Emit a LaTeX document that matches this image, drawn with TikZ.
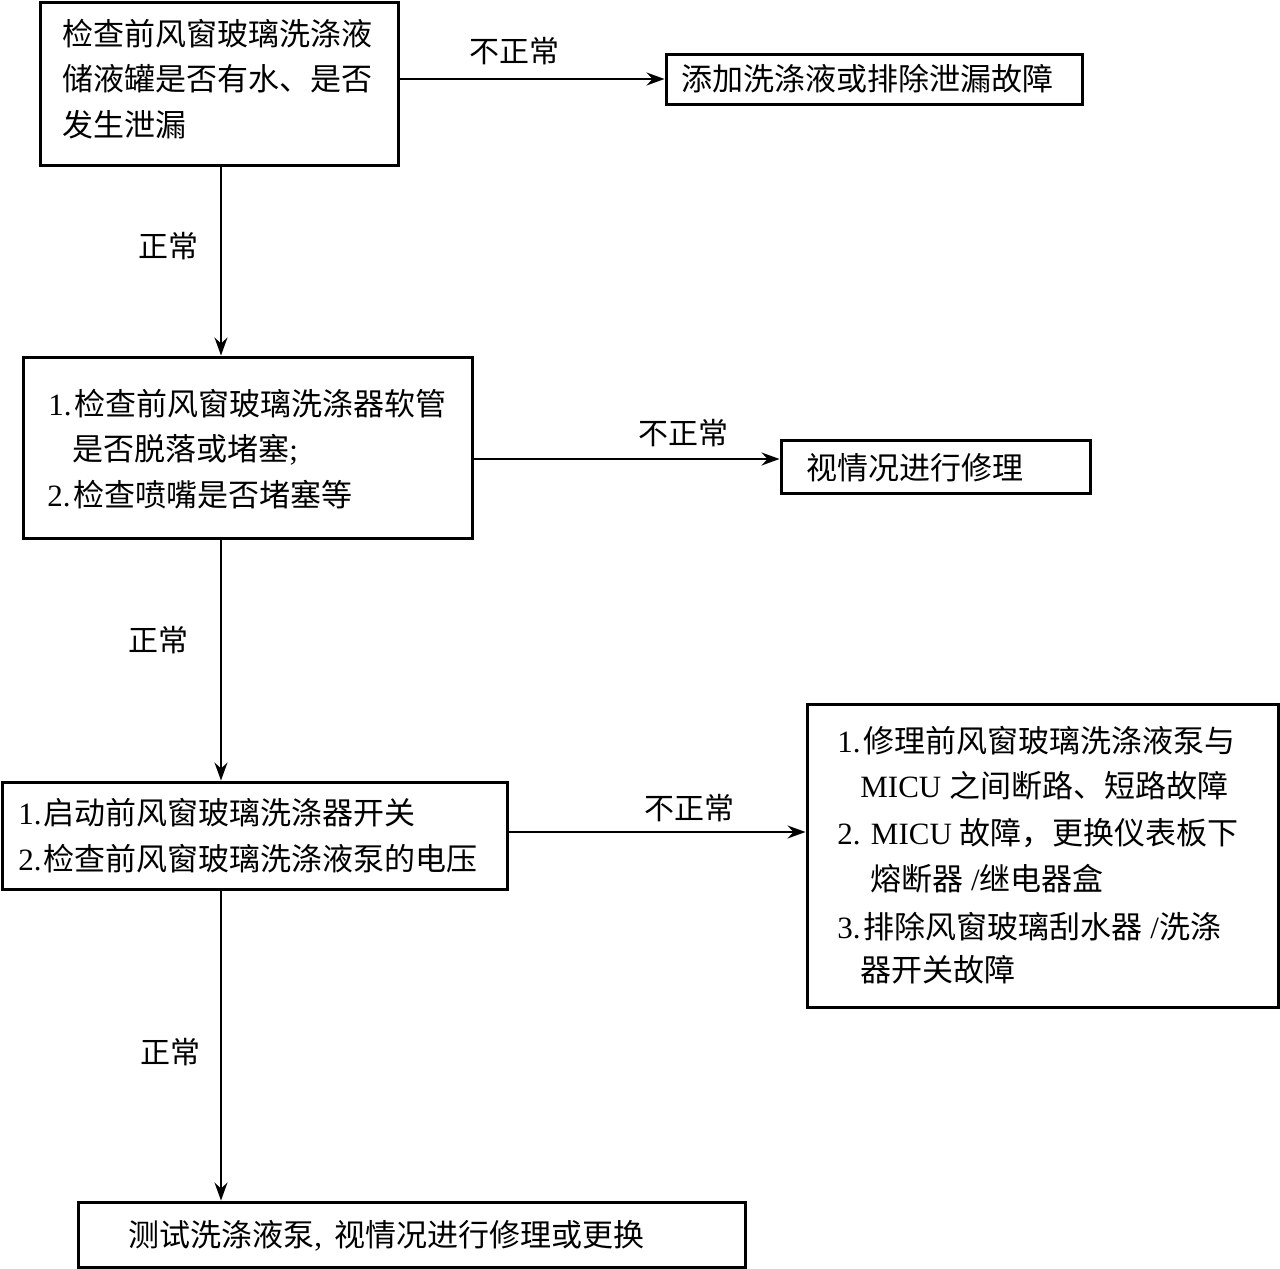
\documentclass[tikz,border=0pt]{standalone}
\usepackage{fontspec}
\setmainfont{Liberation Serif}
\newfontfamily\cjk{Noto Sans CJK SC}
\usetikzlibrary{arrows.meta,fit}
\newcommand\lat[1]{{\rmfamily #1}}
\begin{document}
\begin{tikzpicture}[x=0.5pt,y=-0.5pt,
  box/.style={draw, line width=1.5pt, inner sep=0pt},
  ln/.style={anchor=base west, inner sep=0pt, font=\cjk\fontsize{15.5}{18}\selectfont},
  lbl/.style={inner sep=0pt, font=\cjk\fontsize{15}{18}\selectfont},
  arr/.style={line width=0.85pt, -{Stealth[length=9pt,width=6.5pt,inset=3pt]}}]
\useasboundingbox (0,0) rectangle (1280,1269);

% boxes
\node[box, fit={(40,2) (398,165)}] (b1) {};
\node[box, fit={(666,54) (1082,104)}] (b2) {};
\node[box, fit={(23,357) (472,538)}] (b3) {};
\node[box, fit={(781,440) (1090,493)}] (b4) {};
\node[box, fit={(2,782) (507,889)}] (b5) {};
\node[box, fit={(807,704) (1278,1007)}] (b6) {};
\node[box, fit={(78,1202) (745,1267)}] (b7) {};

% texts
\node[ln] (t1a) at (62,45) {检查前风窗玻璃洗涤液};
\node[ln] (t1b) at (62,90) {储液罐是否有水、是否};
\node[ln] (t1c) at (62,136) {发生泄漏};
\node[ln] (t2) at (681,90) {添加洗涤液或排除泄漏故障};
\node[ln] (t3a) at (48,415) {\lat{1.\hspace{1.5pt}}检查前风窗玻璃洗涤器软管};
\node[ln] (t3b) at (72,460) {是否脱落或堵塞\lat{;}};
\node[ln] (t3c) at (47,506) {\lat{2.\hspace{1.5pt}}检查喷嘴是否堵塞等};
\node[ln] (t4) at (806,479) {视情况进行修理};
\node[ln] (t5a) at (18,824) {\lat{1.\hspace{1pt}}启动前风窗玻璃洗涤器开关};
\node[ln] (t5b) at (18,870) {\lat{2.\hspace{1pt}}检查前风窗玻璃洗涤液泵的电压};
\node[ln] (t6a) at (837,752) {\lat{1.\hspace{1.5pt}}修理前风窗玻璃洗涤液泵与};
\node[ln] (t6b) at (860,797) {\lat{MICU }之间断路、短路故障};
\node[ln] (t6c) at (837,844) {\lat{2. MICU }故障，更换仪表板下};
\node[ln] (t6d) at (870,890) {熔断器\lat{ /}继电器盒};
\node[ln] (t6e) at (837,938) {\lat{3.\hspace{1.5pt}}排除风窗玻璃刮水器\lat{ /}洗涤};
\node[ln] (t6f) at (860,981) {器开关故障};
\node[ln] (t7) at (128,1246) {测试洗涤液泵\lat{,}\hspace{6pt}视情况进行修理或更换};

% labels
\node[lbl] (l1) at (514,51) {不正常};
\node[lbl] (l2) at (168,246) {正常};
\node[lbl] (l3) at (683,433) {不正常};
\node[lbl] (l4) at (158,640) {正常};
\node[lbl] (l5) at (689,808) {不正常};
\node[lbl] (l6) at (170,1052) {正常};

% connectors
\draw[arr] (b1.east |- b2.west) -- (b2.west);
\draw[arr] (b1.south -| 221,0) -- (b3.north -| 221,0);
\draw[arr] (b3.east |- 0,459) -- (b4.west |- 0,459);
\draw[arr] (b3.south -| 221,0) -- (b5.north -| 221,0);
\draw[arr] (b5.east |- 0,832) -- (b6.west |- 0,832);
\draw[arr] (b5.south -| 221,0) -- (b7.north -| 221,0);
\end{tikzpicture}
\end{document}
